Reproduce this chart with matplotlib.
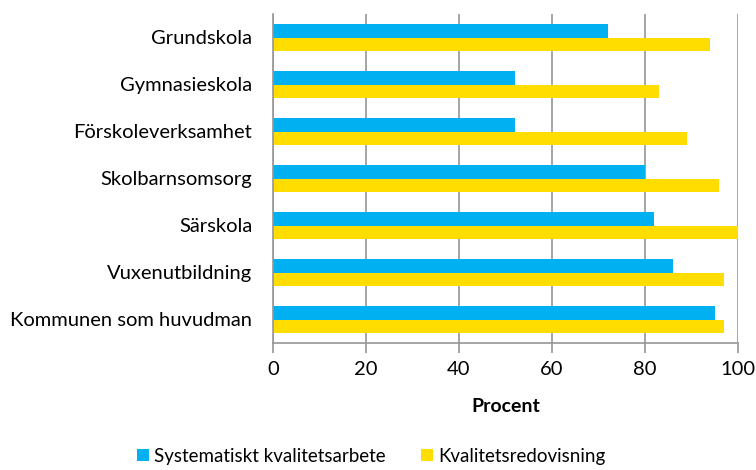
import matplotlib.pyplot as plt
import numpy as np

plt.rcParams['font.family'] = ['Lato', 'DejaVu Sans']

categories = ['Grundskola', 'Gymnasieskola', 'Förskoleverksamhet', 'Skolbarnsomsorg',
              'Särskola', 'Vuxenutbildning', 'Kommunen som huvudman']
systematiskt = [72, 52, 52, 80, 82, 86, 95]
redovisning = [94, 83, 89, 96, 100, 97, 97]

blue = '#00B0F0'
yellow = '#FFDD00'
grid = '#969696'

fig = plt.figure(figsize=(7.56, 4.70), dpi=100)
ax = fig.add_axes([273 / 756, 1 - 343 / 470, 465 / 756, 329 / 470])

y = np.arange(len(categories))
h = 0.285
ax.barh(y - h / 2, systematiskt, height=h, color=blue, label='Systematiskt kvalitetsarbete')
ax.barh(y + h / 2, redovisning, height=h, color=yellow, label='Kvalitetsredovisning')

ax.set_xlim(0, 100)
ax.set_ylim(len(categories) - 0.5, -0.5)
ax.set_xticks(range(0, 101, 20))
ax.set_yticks(y)
ax.set_yticklabels(categories, fontsize=14.5)
ax.tick_params(axis='x', labelsize=14.5, length=7, color=grid, width=1.2, pad=6)
ax.tick_params(axis='y', length=0, pad=15)
ax.xaxis.grid(True, color=grid, linewidth=1.2)
ax.set_axisbelow(True)
for s in ['top', 'right']:
    ax.spines[s].set_visible(False)
for s in ['left', 'bottom']:
    ax.spines[s].set_color(grid)
    ax.spines[s].set_linewidth(1.2)
ax.set_xlabel('Procent', fontsize=14, fontweight='bold', labelpad=14)

fig.legend(loc='lower center', bbox_to_anchor=(0.4914, -0.025), ncol=2, frameon=False,
           fontsize=13.5, handlelength=0.6, handleheight=0.6, handletextpad=0.3,
           columnspacing=1.9)

fig.savefig('out.png', dpi=100)
